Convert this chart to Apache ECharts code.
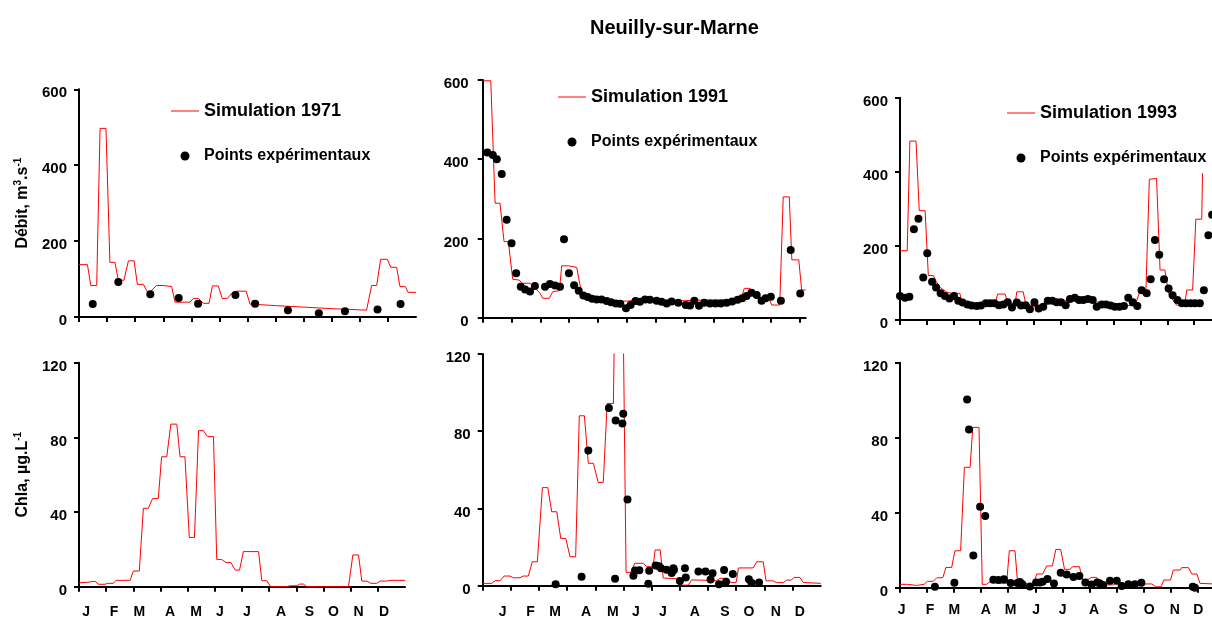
<!DOCTYPE html>
<html><head><meta charset="utf-8">
<script src="https://cdn.jsdelivr.net/npm/echarts@6/dist/echarts.min.js"></script>
<style>html,body{margin:0;padding:0;background:#fff}#c{width:1212px;height:617px}</style>
</head><body><div id="c"></div>
<script>
// ---- data (x in months from 1 January, y values) ----
const monthLetters = ['J','F','M','A','M','J','J','A','S','O','N','D'];
const monthTicks = [0,1,2,3,4,5,6,7,8,9,10,11];
const labelPos1971 = [0.26,1.29,2.22,3.35,4.31,5.19,6.18,7.44,8.48,9.37,10.29,11.23];
const labelPos1991 = [0.71,1.70,2.57,3.67,4.62,5.44,6.40,7.53,8.60,9.45,10.41,11.26];
const labelPos1993 = [0.06,1.11,2.01,3.17,4.09,5.03,6.01,7.17,8.25,9.21,10.16,11.02];

const simQ1971 = [[0,138],[0.30,138],[0.42,83],[0.63,83],[0.75,497],[0.96,497],[1.10,144],[1.28,144],[1.40,97],[1.60,97],[1.76,148],[1.96,148],[2.08,86],[2.29,86],[2.47,62],[2.76,83],[3.00,83],[3.30,80],[3.42,39],[3.95,39],[4.07,49],[4.25,49],[4.43,36],[4.63,36],[4.75,82],[4.96,82],[5.10,49],[5.29,49],[5.43,62],[5.55,62],[5.61,68],[5.95,68],[6.09,34],[7,30],[8,26],[9,22],[10.24,18],[10.42,83],[10.60,83],[10.74,152],[10.98,152],[11.10,131],[11.31,131],[11.43,80],[11.62,80],[11.72,65],[12,65]];
const obsQ1971 = [[0.49,34],[1.40,92],[2.54,60],[3.55,50],[4.24,35],[5.57,58],[6.27,35],[7.44,18],[8.54,10],[9.47,15],[10.63,20],[11.45,34]];

const simQ1991 = [[0,598],[0.28,598],[0.43,289],[0.60,289],[0.74,192],[0.89,192],[1.04,97],[1.27,95],[1.36,87],[1.64,87],[1.99,62],[2.08,49],[2.31,49],[2.43,66],[2.66,68],[2.74,131],[2.97,131],[3.0,127],[3.26,127],[3.43,61],[3.6,55],[3.8,48],[4.0,45],[4.5,40],[5.0,42],[5.5,45],[6.0,45],[7,43],[8,45],[8.95,45],[9.07,74],[9.27,74],[9.4,57],[9.7,50],[9.95,45],[10.02,32],[10.3,32],[10.42,305],[10.63,305],[10.72,146],[10.96,146],[11.06,70],[11.2,70]];
const obsQ1991 = [[0.16,417],[0.35,411],[0.49,400],[0.66,363],[0.83,247],[1.00,188],[1.16,112],[1.32,78],[1.47,71],[1.64,66],[1.81,80],[2.16,78],[2.33,85],[2.51,81],[2.68,78],[2.82,198],[2.99,112],[3.17,82],[3.33,68],[3.49,56],[3.64,52],[3.79,48],[3.95,46],[4.12,46],[4.30,42],[4.45,39],[4.62,36],[4.77,35],[4.97,24],[5.13,32],[5.30,42],[5.45,40],[5.63,46],[5.80,45],[6.03,43],[6.20,40],[6.38,36],[6.55,41],[6.78,38],[7.04,32],[7.19,31],[7.34,43],[7.50,30],[7.68,38],[7.88,36],[8.07,36],[8.26,36],[8.46,38],[8.65,41],[8.84,45],[9.00,49],[9.15,55],[9.32,63],[9.50,57],[9.67,43],[9.81,49],[9.99,53],[10.34,43],[10.68,171],[11.01,61]];

const simQ1993 = [[0,187],[0.27,187],[0.37,483],[0.60,483],[0.72,295],[0.94,295],[1.06,120],[1.25,120],[1.36,103],[1.5,88],[1.75,75],[1.93,72],[2.24,72],[2.3,50],[2.6,44],[2.8,42],[3.2,40],[3.55,39],[3.65,70],[3.93,70],[4.04,45],[4.31,45],[4.37,76],[4.61,76],[4.7,45],[5.05,36],[5.3,40],[5.55,54],[6.0,54],[6.5,52],[7.0,50],[7.36,49],[7.6,45],[8.36,40],[8.79,38],[8.95,72],[9.2,75],[9.33,380],[9.6,382],[9.73,135],[9.91,135],[10.05,72],[10.2,55],[10.35,40],[10.65,40],[10.73,81],[10.95,81],[11.07,272],[11.29,272],[11.32,396]];
const obsQ1993 = [[0,65],[0.19,60],[0.35,63],[0.52,245],[0.69,273],[0.87,115],[1.02,180],[1.20,103],[1.35,88],[1.52,72],[1.68,65],[1.85,58],[2.02,65],[2.18,52],[2.34,47],[2.52,42],[2.68,39],[2.87,38],[3.03,39],[3.21,45],[3.37,45],[3.53,45],[3.70,40],[3.87,42],[4.03,48],[4.19,34],[4.37,47],[4.53,39],[4.70,40],[4.86,29],[5.03,48],[5.19,31],[5.36,36],[5.53,52],[5.70,52],[5.86,48],[6.02,48],[6.20,40],[6.36,57],[6.54,60],[6.70,54],[6.86,54],[7.03,57],[7.21,54],[7.36,36],[7.55,42],[7.71,42],[7.88,39],[8.04,36],[8.21,36],[8.38,38],[8.54,60],[8.71,48],[8.88,38],[9.04,80],[9.23,72],[9.38,110],[9.54,216],[9.70,176],[9.88,110],[10.05,85],[10.20,67],[10.38,54],[10.55,45],[10.70,45],[10.88,45],[11.04,45],[11.22,45],[11.37,80],[11.54,229],[11.68,284]];

const simC1971 = [[0,2.1],[0.28,2.3],[0.3,2.9],[0.59,2.9],[0.71,1.3],[0.96,1.3],[1.04,1.8],[1.26,1.8],[1.36,3.4],[1.88,3.4],[2.0,8.4],[2.22,8.4],[2.37,42],[2.55,42],[2.71,47.3],[2.92,47.3],[3.04,69.6],[3.23,69.6],[3.38,87.1],[3.6,87.1],[3.72,69.6],[3.9,69.6],[4.06,26.4],[4.25,26.4],[4.4,83.6],[4.58,83.6],[4.73,80.4],[4.95,80.4],[5.07,14.6],[5.25,14.6],[5.41,12.9],[5.59,12.9],[5.75,8.9],[5.91,8.9],[6.05,18.8],[6.61,18.8],[6.73,3.2],[6.91,3.2],[7.06,0],[7.65,0],[7.77,0.5],[8.02,0.5],[8.12,1.4],[8.26,1.4],[8.39,0],[9.92,0],[10.08,17],[10.29,17],[10.41,3.0],[10.6,3.0],[10.74,1.8],[10.96,1.8],[11.09,3.0],[11.33,3.0],[11.45,3.4],[12,3.4]];

const simC1991 = [[0,1.2],[0.32,1.2],[0.44,2.6],[0.62,2.6],[0.76,5.0],[0.97,5.0],[1.09,4.1],[1.32,4.1],[1.44,5.0],[1.62,5.0],[1.76,12.4],[1.94,12.4],[2.12,50.8],[2.31,50.8],[2.45,38.3],[2.63,38.3],[2.77,24.5],[2.95,24.5],[3.1,15],[3.3,15],[3.43,88],[3.61,88],[3.75,63.4],[3.93,63.4],[4.1,53.5],[4.28,53.5],[4.42,94.4],[4.64,94.4],[4.7,160],[4.97,160],[5.09,6.9],[5.25,6.9],[5.4,11.6],[5.7,11.6],[5.82,9.8],[6.05,9.8],[6.12,18.5],[6.3,18.5],[6.41,4.0],[6.88,3.6],[7.0,3.3],[7.06,0.3],[7.3,0.3],[7.42,3.0],[7.77,2.9],[8.13,2.6],[8.3,2.6],[8.42,3.8],[8.7,3.8],[8.8,1.7],[9.0,1.7],[9.08,9.2],[9.6,9.2],[9.73,12.4],[9.96,12.4],[10.06,2.5],[10.31,2.5],[10.43,1.6],[10.67,1.6],[10.79,2.9],[10.96,2.9],[11.05,4.3],[11.26,4.3],[11.38,1.7],[12,1.2]];
const obsC1991 = [[2.59,0.8],[3.51,4.7],[3.75,70],[4.48,92],[4.70,3.6],[4.72,85.5],[4.96,84],[4.99,89],[5.14,44.7],[5.35,5.2],[5.41,7.9],[5.56,8.0],[5.88,1.0],[5.91,7.7],[6.14,10.5],[6.26,10.1],[6.33,9.0],[6.53,8.3],[6.71,6.6],[6.77,9.0],[6.79,8.1],[7.0,2.4],[7.18,9.1],[7.21,4.3],[7.66,7.3],[7.91,7.3],[8.09,3.2],[8.16,6.4],[8.39,0.7],[8.57,8.1],[8.64,2.0],[8.88,6.0],[9.45,3.3],[9.54,1.5],[9.81,1.6]];

const simC1993 = [[0,1.8],[0.28,1.8],[0.31,1.2],[0.62,1.2],[0.68,1.8],[0.89,1.8],[1.01,3.4],[1.23,3.4],[1.36,5.3],[1.58,5.3],[1.7,10.8],[1.91,10.8],[2.03,19.7],[2.24,19.7],[2.38,64.2],[2.59,64.2],[2.69,85.5],[2.92,85.5],[3.04,1.8],[3.2,1.8],[3.33,3.2],[3.55,3.2],[3.7,2.3],[3.94,2.3],[4.04,19.7],[4.25,19.7],[4.34,3.7],[4.56,3.7],[4.74,1.4],[4.93,1.4],[5.05,7.3],[5.27,7.3],[5.42,11.6],[5.63,11.6],[5.76,20.4],[5.94,20.4],[6.08,9.8],[6.28,9.8],[6.38,11.2],[6.63,11.2],[6.75,4.4],[6.95,4.4],[7.08,5.5],[7.27,5.5],[7.4,1.5],[7.88,1.5],[8.0,2.3],[8.3,2.3],[8.45,1.0],[8.7,1.0],[8.85,2.0],[9.3,2.0],[9.45,0.5],[9.65,0.5],[9.75,4.1],[10.0,4.1],[10.1,9.4],[10.35,9.4],[10.41,10.7],[10.66,10.7],[10.78,7.3],[10.97,7.3],[11.09,2.3],[11.6,2.0],[12,2.0]];
const obsC1993 = [[1.29,0.5],[2.01,2.7],[2.48,100.4],[2.55,84.4],[2.71,17.2],[2.96,43.2],[3.15,38.2],[3.45,4.3],[3.63,4.1],[3.84,4.5],[4.09,2.5],[4.34,2.5],[4.43,3.0],[4.52,1.8],[4.80,0.7],[5.03,2.8],[5.17,2.8],[5.27,3.2],[5.45,4.7],[5.69,2.3],[5.94,8.0],[6.16,7.1],[6.41,5.7],[6.63,6.3],[6.85,2.8],[7.08,1.7],[7.29,2.8],[7.39,2.3],[7.51,1.4],[7.76,3.7],[8.01,3.7],[8.19,0.9],[8.44,1.8],[8.68,1.8],[8.92,2.7],[10.82,0.5],[10.90,0]];

// ---- layout ----
const FONT = '"Liberation Sans", Arial, Helvetica, sans-serif';
const RED = '#ff0000';
const LINE_ICON = 'path://M0,0 L28,0 L28,1 L0,1 Z';
const panels = [
  {grid:{left:79, top:89.3, width:337, height:227.7}, xmax:12, ymax:600, yint:200, sim:simQ1971, obs:obsQ1971, simName:'Simulation 1971', labels:null, ym:12, name:'{n|Débit, m}{s|3}{n|.s}{s|-1}'},
  {grid:{left:482.7, top:80, width:323, height:237.7}, xmax:11.2, ymax:600, yint:200, sim:simQ1991, obs:obsQ1991, simName:'Simulation 1991', labels:null, ym:14},
  {grid:{left:900, top:97.7, width:320.7, height:222.3}, xmax:12, ymax:600, yint:200, sim:simQ1993, obs:obsQ1993, simName:'Simulation 1993', labels:null, ym:12},
  {grid:{left:79, top:362.7, width:326, height:224}, xmax:12, ymax:120, yint:40, sim:simC1971, obs:null, simName:'Chla 1971', labels:labelPos1971, lm:18, ym:12, name:'{n|Chla, µg.L}{s|-1}'},
  {grid:{left:482.7, top:354, width:338, height:231.7}, xmax:12, ymax:120, yint:40, sim:simC1991, obs:obsC1991, simName:'Chla 1991', labels:labelPos1991, lm:19, ym:12},
  {grid:{left:900, top:362.7, width:324.7, height:225}, xmax:12, ymax:120, yint:40, sim:simC1993, obs:obsC1993, simName:'Chla 1993', labels:labelPos1993, lm:15, ym:12}
];
const legendPos = [
  {left:171, top:102, name:'Simulation 1971'},
  {left:558, top:88, name:'Simulation 1991'},
  {left:1007, top:104, name:'Simulation 1993'}
];

const grids = [], xAxes = [], yAxes = [], series = [], legends = [];
panels.forEach((p, i) => {
  grids.push(Object.assign({outerBoundsMode:'none', containLabel:false}, p.grid));
  xAxes.push({
    type:'value', gridIndex:i, min:0, max:p.xmax, interval:1,
    axisLine:{show:true, onZero:false, lineStyle:{color:'#000', width:2}},
    axisTick:{show:true, length:5, lineStyle:{color:'#000', width:2}, customValues: monthTicks},
    axisLabel: p.labels ? {show:true, customValues:p.labels, formatter:(v)=> monthLetters[Math.floor(v + 1e-6)] || '',
      fontSize:14, fontWeight:'bold', color:'#000', fontFamily:FONT, margin:p.lm} : {show:false},
    splitLine:{show:false}
  });
  const ya = {
    type:'value', gridIndex:i, min:0, max:p.ymax, interval:p.yint,
    axisLine:{show:true, lineStyle:{color:'#000', width:2}},
    axisTick:{show:true, length:5, lineStyle:{color:'#000', width:2}},
    axisLabel:{fontSize:15, fontWeight:'bold', color:'#000', fontFamily:FONT, margin:p.ym, verticalAlign:'top', lineHeight:8},
    splitLine:{show:false}
  };
  if (p.name) {
    Object.assign(ya, {name:p.name, nameLocation:'middle', nameGap:46, nameRotate:90, nameMoveOverlap:false,
      nameTextStyle:{color:'#000', rich:{
        n:{fontSize:16, fontWeight:'bold', fontFamily:FONT, color:'#000', lineHeight:20},
        s:{fontSize:10, fontWeight:'bold', fontFamily:FONT, color:'#000', lineHeight:10, verticalAlign:'top'}
      }}});
  }
  yAxes.push(ya);
  series.push({type:'line', name:p.simName, xAxisIndex:i, yAxisIndex:i, data:p.sim, showSymbol:false, symbol:'none',
    legendIcon:LINE_ICON, lineStyle:{color:RED, width:1}, itemStyle:{color:RED}, clip:true, z:2});
  if (p.obs) series.push({type:'scatter', name:'Points expérimentaux', xAxisIndex:i, yAxisIndex:i, data:p.obs,
    symbol:'circle', symbolSize:8, itemStyle:{color:'#000', opacity:1}, clip:true, z:3});
});
legendPos.forEach(l => {
  legends.push({orient:'vertical', left:l.left, top:l.top, itemWidth:28, itemHeight:9, itemGap:28, padding:0,
    selectedMode:false, symbolKeepAspect:true,
    textStyle:{fontWeight:'bold', color:'#000', fontFamily:FONT},
    data:[{name:l.name, icon:LINE_ICON, itemStyle:{color:RED}, textStyle:{fontSize:18, fontWeight:'bold'}},
          {name:'Points expérimentaux', icon:'circle', itemStyle:{color:'#000', opacity:1}, textStyle:{fontSize:16, fontWeight:'bold'}}]});
});

const chart = echarts.init(document.getElementById('c'), null, {renderer:'canvas'});
chart.setOption({
  animation:false,
  backgroundColor:'#fff',
  title:{text:'Neuilly-sur-Marne', left:585, top:13, textStyle:{fontSize:20, fontWeight:'bold', color:'#000', fontFamily:FONT}},
  tooltip:{show:false},
  legend:legends,
  grid:grids, xAxis:xAxes, yAxis:yAxes, series:series
});
</script></body></html>
